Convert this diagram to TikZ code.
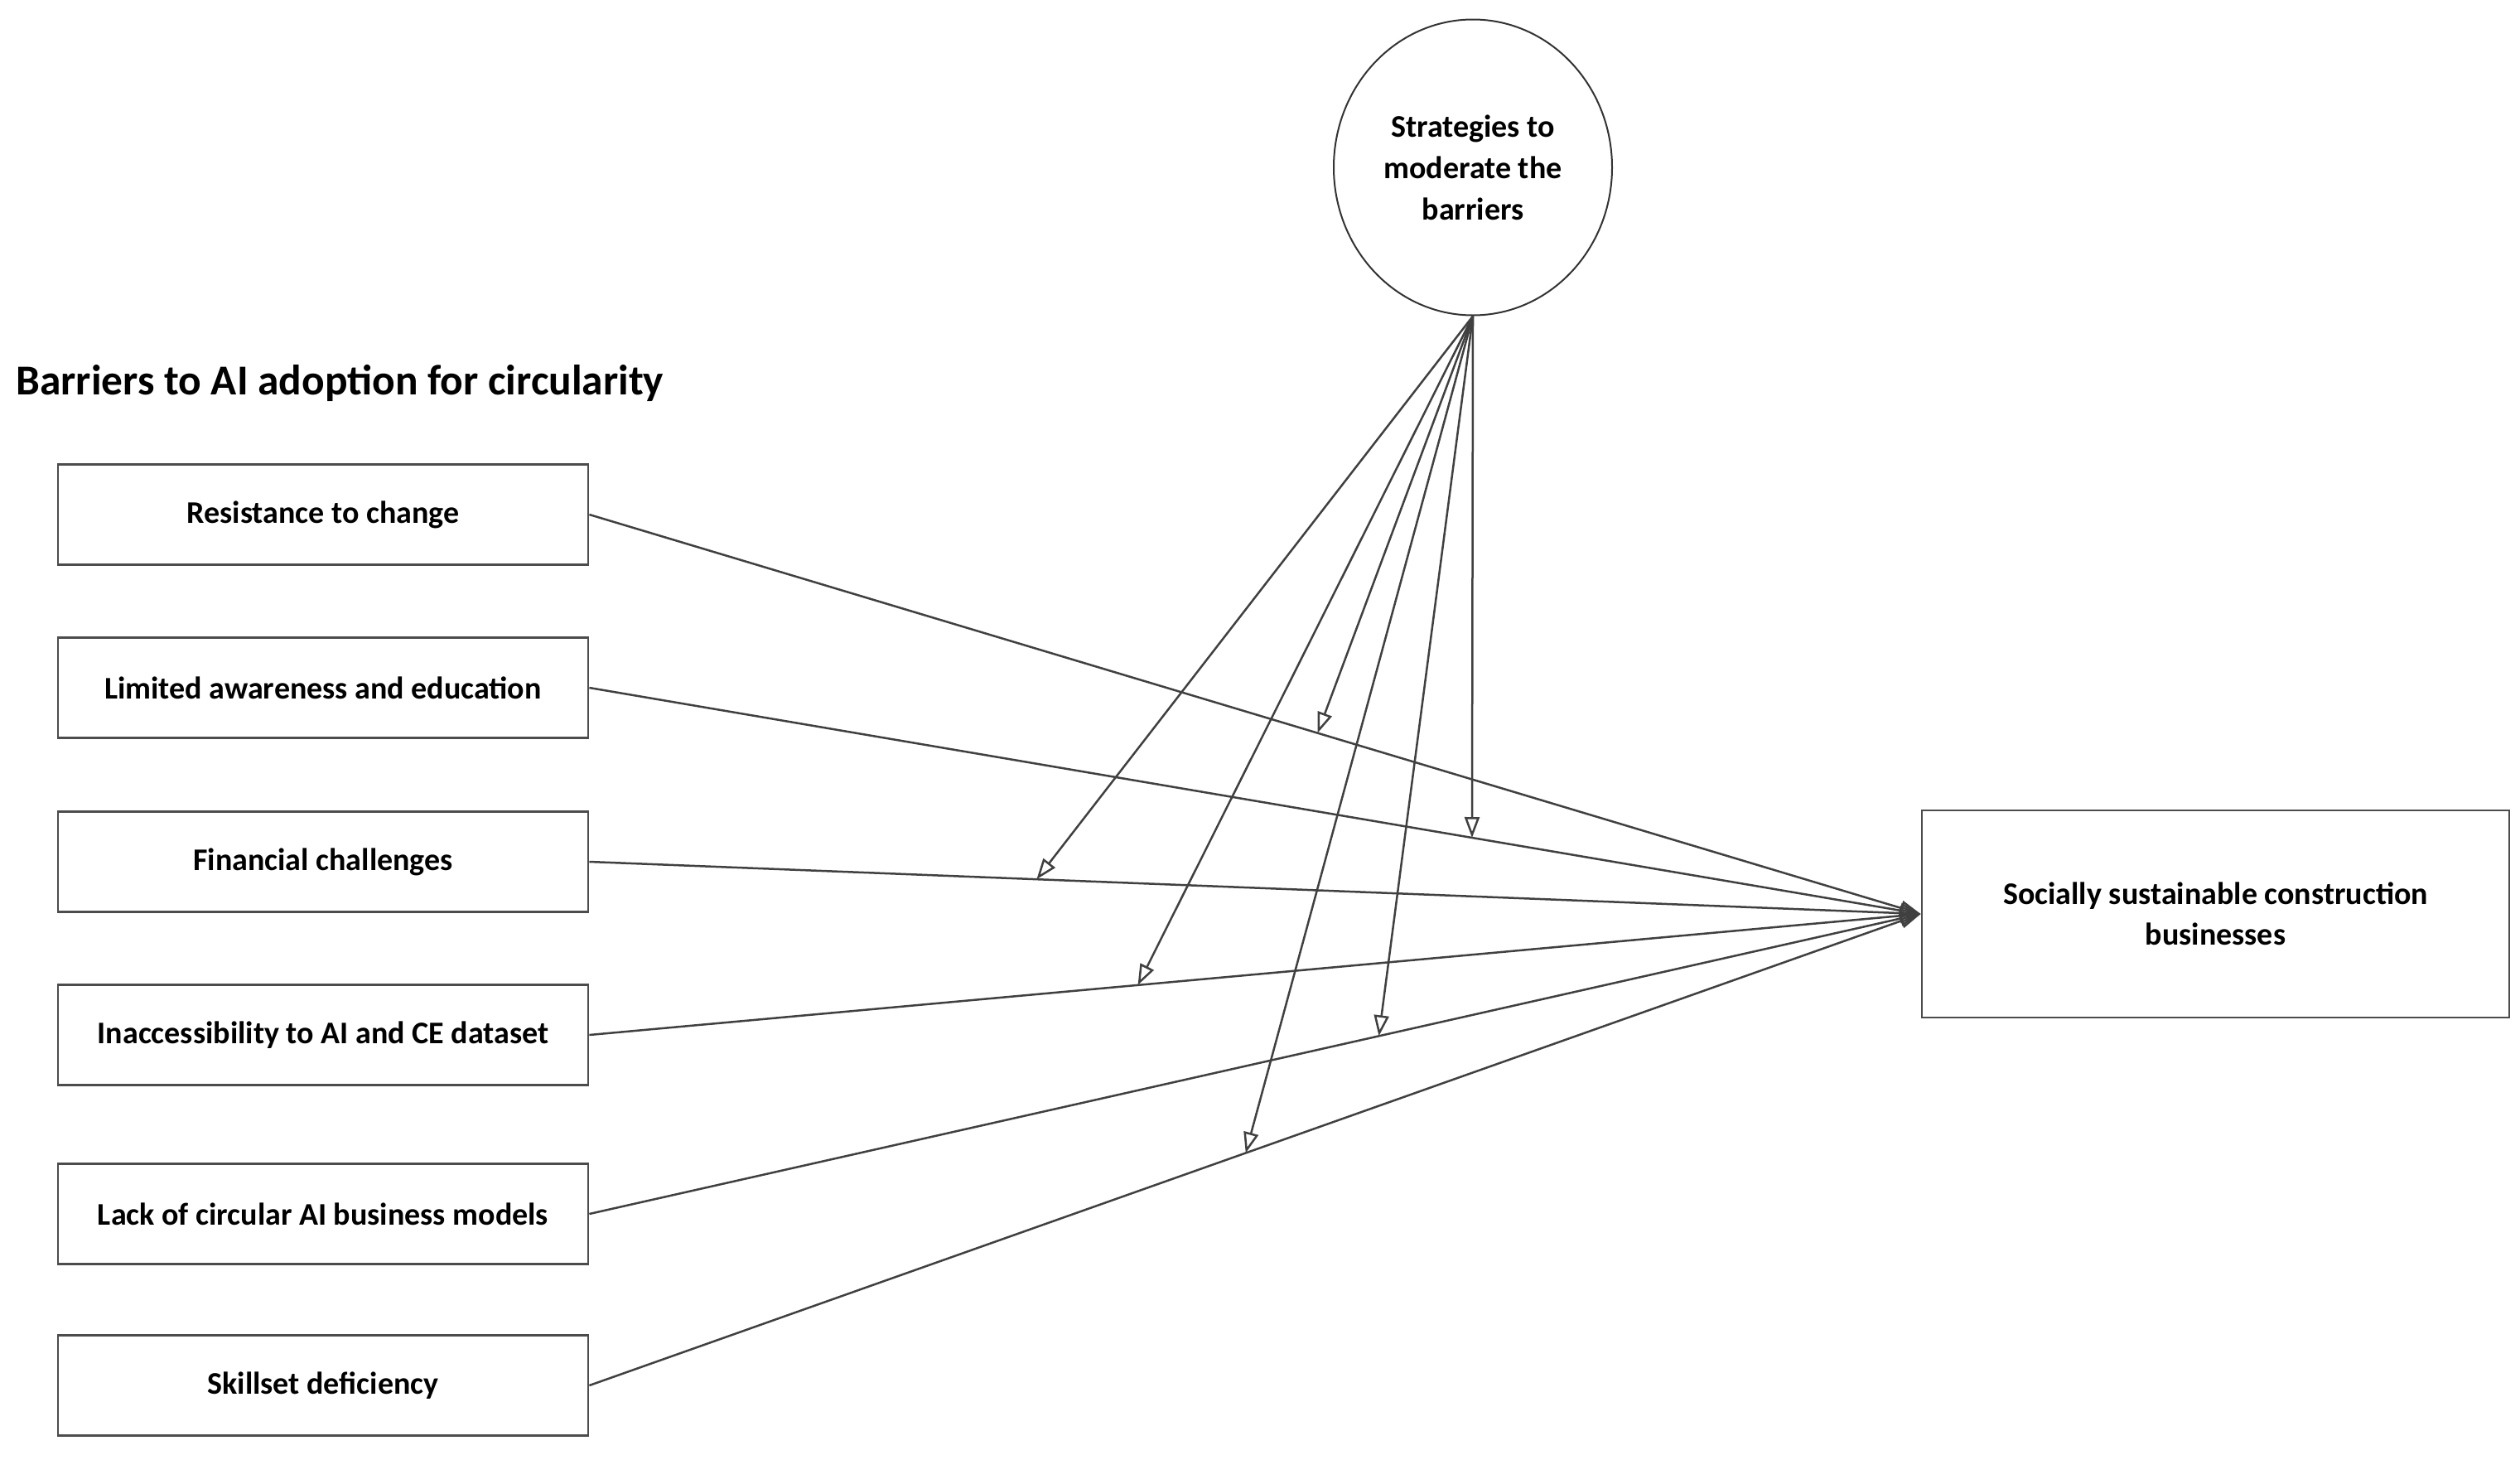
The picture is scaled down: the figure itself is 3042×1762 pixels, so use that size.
\documentclass[tikz,border=0pt]{standalone}
\usepackage{fontspec}
\setmainfont{Carlito}
\usetikzlibrary{arrows.meta,shapes.geometric}
\begin{document}
\begin{tikzpicture}[x=0.5pt,y=-0.5pt,
  barrier/.style={draw=black!70, line width=1.4pt, minimum width=320pt, minimum height=60.5pt,
    inner sep=0pt, fill=white, font=\fontsize{19}{24}\selectfont\bfseries},
  outcome/.style={draw=black!70, line width=1.4pt, minimum width=354.5pt, minimum height=125pt,
    inner sep=0pt, fill=white, align=center, font=\fontsize{19}{24.5}\selectfont\bfseries},
  strategy/.style={ellipse, draw=black!80, line width=1pt, minimum width=168pt, minimum height=178.5pt,
    inner sep=0pt, align=center, font=\fontsize{19}{25}\selectfont\bfseries},
  link/.style={draw=black!75, line width=1.25pt, -{Triangle[open,length=12.5pt,width=9pt]}},
]
\useasboundingbox (0,0) rectangle (3042,1762);
\node[anchor=base west, inner sep=0pt, font=\fontsize{25.7}{30}\selectfont\bfseries] (title) at (19,476) {Barriers to AI adoption for circularity};
\node[barrier] (b1) at (390,621) {Resistance to change};
\node[barrier] (b2) at (390,830) {Limited awareness and education};
\node[barrier] (b3) at (390,1040) {Financial challenges};
\node[barrier] (b4) at (390,1249) {Inaccessibility to AI and CE dataset};
\node[barrier] (b5) at (390,1465) {Lack of circular AI business models};
\node[barrier] (b6) at (390,1672) {Skillset deficiency};
\node[outcome] (out) at (2674.5,1103) {Socially sustainable construction\\businesses};
\node[strategy] (strat) at (1778,202) {Strategies to\\moderate the\\barriers};

\foreach \i in {1,...,6} \draw[link] (b\i.east) -- (out.west);

\path (b1.east) -- (out.west) coordinate[pos=0.547] (m1);
\path (b2.east) -- (out.west) coordinate[pos=0.663] (m2);
\path (b3.east) -- (out.west) coordinate[pos=0.336] (m3);
\path (b4.east) -- (out.west) coordinate[pos=0.412] (m4);
\path (b5.east) -- (out.west) coordinate[pos=0.593] (m5);
\path (b6.east) -- (out.west) coordinate[pos=0.493] (m6);
\foreach \i in {1,...,6} \draw[link] (strat.south) -- (m\i);
\end{tikzpicture}
\end{document}
